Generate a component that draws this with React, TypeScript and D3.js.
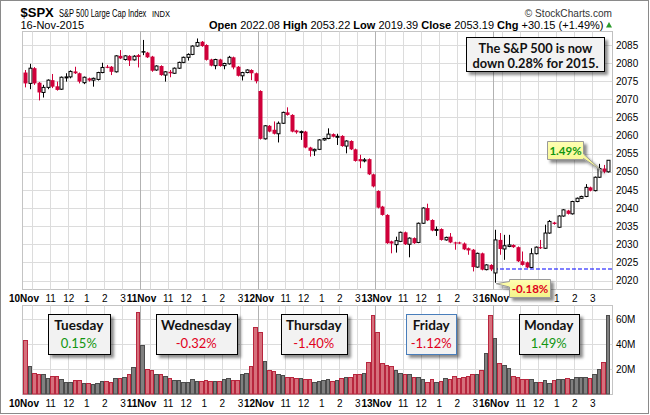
import React from 'react';
import * as d3 from 'd3';

// ---------- DATA ----------
const dayLabels = ['10Nov', '11Nov', '12Nov', '13Nov', '16Nov'];
const hourLabels = ['11', '12', '1', '2', '3'];
const priceTicks = [2020, 2025, 2030, 2035, 2040, 2045, 2050, 2055, 2060, 2065, 2070, 2075, 2080, 2085];
const volTicks = [20, 40, 60];
const volTickLabels = ['20M', '40M', '60M'];
const prevSessionClose = 2078.58;
const fridayClose = 2023.04;

// 15-minute bars, 26 per session
const opens = [
  2077.4, 2074.4, 2078.6, 2074.6, 2071.9, 2073.3, 2075.3, 2073.6, 2072.8, 2076.1, 2076.2, 2077.7, 2077.2, 2074.6, 2075.8, 2075.3, 2075.5, 2077.4, 2079.0, 2079.0, 2077.6, 2082.0, 2081.0, 2082.0, 2080.9, 2082.2,
  2083.3, 2082.9, 2081.8, 2078.1, 2079.2, 2076.7, 2077.6, 2077.2, 2078.6, 2080.2, 2081.6, 2082.4, 2084.7, 2085.9, 2085.0, 2081.0, 2079.3, 2081.0, 2079.3, 2079.8, 2081.6, 2079.0, 2076.5, 2077.4, 2078.1, 2077.2,
  2072.3, 2059.1, 2062.7, 2061.6, 2060.5, 2063.4, 2066.4, 2065.7, 2061.4, 2060.9, 2061.1, 2056.7, 2055.8, 2056.2, 2058.8, 2059.2, 2060.4, 2059.7, 2059.9, 2057.1, 2058.5, 2056.2, 2053.5, 2053.0, 2053.5, 2049.3,
  2044.7, 2040.4, 2038.1, 2030.8, 2029.9, 2030.8, 2033.3, 2030.0, 2031.7, 2030.5, 2035.8, 2040.0, 2036.7, 2034.0, 2034.2, 2031.2, 2032.1, 2030.5, 2030.5, 2030.2, 2028.9, 2028.5, 2023.7, 2027.5, 2023.0, 2024.3,
  2022.08, 2031.2, 2028.7, 2029.4, 2029.8, 2029.2, 2025.3, 2025.0, 2023.6, 2027.4, 2029.2, 2028.9, 2033.1, 2036.0, 2034.7, 2037.8, 2039.3, 2038.4, 2041.8, 2042.7, 2043.2, 2045.7, 2044.8, 2048.5, 2050.9, 2050.0,
];
const highs = [
  2078.1, 2079.8, 2078.9, 2074.8, 2074.0, 2075.5, 2077.0, 2074.9, 2076.3, 2077.2, 2078.0, 2079.0, 2077.4, 2076.3, 2076.0, 2076.0, 2077.6, 2080.1, 2079.5, 2079.2, 2082.2, 2083.6, 2082.2, 2082.2, 2082.2, 2082.5,
  2086.4, 2083.1, 2082.0, 2079.4, 2079.4, 2077.8, 2078.1, 2078.8, 2080.4, 2081.8, 2082.7, 2084.9, 2086.8, 2086.1, 2085.2, 2081.2, 2081.2, 2081.2, 2080.1, 2082.0, 2081.8, 2079.2, 2077.6, 2078.3, 2078.3, 2077.4,
  2072.5, 2062.9, 2062.9, 2063.9, 2063.9, 2066.6, 2067.8, 2065.9, 2061.6, 2061.4, 2061.3, 2056.9, 2056.4, 2059.0, 2059.4, 2062.0, 2060.6, 2060.5, 2060.1, 2058.7, 2058.7, 2056.4, 2054.7, 2053.8, 2053.7, 2049.5,
  2044.9, 2040.6, 2038.3, 2031.0, 2032.1, 2033.5, 2033.5, 2031.9, 2031.9, 2036.0, 2040.2, 2041.2, 2036.9, 2034.9, 2034.4, 2032.1, 2033.1, 2030.7, 2030.7, 2030.5, 2029.1, 2028.7, 2027.7, 2027.7, 2024.5, 2024.5,
  2034.0, 2033.1, 2032.6, 2032.6, 2030.0, 2029.4, 2028.0, 2025.2, 2028.9, 2029.4, 2031.2, 2035.4, 2036.7, 2036.2, 2038.0, 2039.7, 2039.5, 2042.0, 2042.9, 2043.4, 2046.6, 2045.9, 2048.7, 2052.2, 2051.9, 2053.22,
];
const lows = [
  2073.3, 2072.8, 2074.0, 2069.7, 2070.5, 2072.8, 2073.1, 2072.4, 2072.6, 2074.9, 2075.8, 2077.0, 2074.4, 2074.2, 2074.9, 2073.5, 2075.2, 2077.2, 2078.6, 2076.7, 2077.4, 2081.1, 2080.7, 2079.2, 2080.7, 2078.8,
  2082.2, 2081.4, 2077.6, 2077.9, 2076.5, 2074.9, 2076.1, 2077.0, 2078.4, 2080.0, 2080.7, 2082.2, 2084.5, 2084.5, 2080.7, 2079.1, 2078.3, 2079.0, 2078.3, 2079.6, 2078.3, 2076.3, 2075.2, 2077.2, 2075.3, 2074.4,
  2058.9, 2058.9, 2060.9, 2060.3, 2058.1, 2063.2, 2065.5, 2060.9, 2060.5, 2058.8, 2056.5, 2054.2, 2054.4, 2056.0, 2058.6, 2059.0, 2059.5, 2057.4, 2056.9, 2055.1, 2056.0, 2052.8, 2051.0, 2052.6, 2049.1, 2045.7,
  2039.9, 2037.9, 2030.1, 2027.5, 2027.7, 2030.6, 2029.8, 2026.4, 2030.1, 2030.3, 2035.6, 2036.4, 2033.6, 2032.3, 2031.0, 2031.0, 2030.3, 2028.5, 2030.1, 2028.4, 2027.1, 2022.5, 2023.5, 2022.8, 2022.8, 2022.6,
  2019.39, 2027.1, 2025.7, 2029.2, 2029.0, 2025.1, 2024.1, 2023.4, 2023.4, 2027.2, 2028.7, 2028.7, 2032.9, 2035.4, 2034.5, 2037.6, 2038.2, 2038.2, 2041.6, 2042.5, 2043.0, 2044.6, 2044.6, 2048.3, 2049.6, 2049.8,
];
const closes = [
  2074.4, 2078.6, 2074.4, 2071.9, 2073.3, 2075.3, 2073.5, 2072.6, 2076.1, 2076.2, 2077.7, 2077.2, 2074.9, 2076.1, 2075.2, 2075.8, 2077.4, 2078.8, 2078.7, 2077.6, 2082.0, 2081.3, 2082.0, 2080.7, 2081.9, 2081.7,
  2082.9, 2081.6, 2077.9, 2079.2, 2076.7, 2077.6, 2077.2, 2078.6, 2080.2, 2081.6, 2082.4, 2084.7, 2085.7, 2084.7, 2080.9, 2079.3, 2081.0, 2079.2, 2079.9, 2081.6, 2078.8, 2076.5, 2077.4, 2078.1, 2077.2, 2075.0,
  2059.1, 2062.7, 2061.1, 2060.5, 2063.4, 2066.4, 2065.7, 2061.1, 2060.9, 2061.1, 2056.7, 2055.8, 2056.2, 2058.8, 2059.2, 2060.4, 2059.7, 2059.8, 2057.1, 2058.5, 2056.2, 2053.0, 2052.9, 2053.3, 2049.3, 2045.97,
  2040.1, 2038.1, 2030.3, 2030.2, 2031.0, 2033.3, 2030.0, 2031.7, 2030.3, 2035.8, 2040.0, 2036.6, 2033.8, 2034.1, 2031.2, 2031.9, 2030.5, 2030.3, 2030.2, 2028.6, 2028.3, 2023.7, 2027.5, 2023.0, 2024.3, 2023.04,
  2031.2, 2028.7, 2029.6, 2029.8, 2029.2, 2025.3, 2024.3, 2023.6, 2027.4, 2029.2, 2028.9, 2033.1, 2036.3, 2035.6, 2037.8, 2039.5, 2038.4, 2041.8, 2042.7, 2043.2, 2045.7, 2044.8, 2048.5, 2050.9, 2050.0, 2053.19,
];
// volume in millions
const volumes = [
  43.2, 22.4, 16.5, 15.7, 15.7, 12.5, 14.4, 14.4, 11.7, 9.9, 9.9, 11.2, 11.2, 8.5, 8.5, 7.7, 8.5, 10.4, 10.4, 9.9, 12.5, 12.5, 13.3, 16.0, 21.3, 65.3,
  39.2, 19.7, 19.2, 16.0, 16.0, 14.4, 12.5, 11.2, 11.2, 9.9, 9.9, 11.7, 10.4, 10.4, 11.2, 10.7, 10.4, 10.4, 11.7, 12.5, 11.2, 11.2, 16.0, 16.8, 22.4, 53.3,
  49.9, 26.4, 19.2, 18.7, 16.0, 15.2, 13.3, 13.3, 12.5, 12.5, 11.7, 11.7, 9.9, 10.7, 11.2, 11.7, 10.4, 11.2, 12.5, 13.3, 13.3, 16.0, 16.0, 16.8, 25.6, 63.2,
  49.3, 24.5, 23.2, 22.4, 19.2, 16.8, 16.0, 16.0, 13.3, 13.3, 11.7, 9.9, 11.7, 9.9, 10.4, 12.5, 11.7, 14.4, 12.5, 13.3, 14.4, 16.0, 16.0, 19.2, 32.8, 63.2,
  44.5, 24.5, 23.2, 20.5, 14.4, 13.3, 11.7, 11.7, 11.7, 9.9, 9.9, 11.2, 8.5, 11.2, 11.7, 11.7, 12.5, 11.7, 13.3, 13.3, 13.9, 12.5, 16.0, 19.7, 25.6, 63.2,
];
const weekdayNames = ['Tuesday', 'Wednesday', 'Thursday', 'Friday', 'Monday'];
const weekdayChanges = [0.15, -0.32, -1.40, -1.12, 1.49];
const headerValues = { open: '2022.08', high: '2053.22', low: '2019.39', close: '2053.19', chg: '+30.15', pct: '(+1.49%)' };
const lowCallout = '-0.18%';
const lastCallout = '1.49%';
const noteLines = ['The S&P 500 is now', 'down 0.28% for 2015.'];

// ---------- LAYOUT ----------
const BARS_PER_DAY = 26;
const PLOT_L = 23;
const PLOT_R = 612.5;
const MAIN_T = 31.5;
const MAIN_B = 289.5;
const VOL_T = 305.5;
const VOL_B = 394.5;
const boxWidths = [62, 81, 66, 50, 60];
const LOW_BOX = { x0: 509.5, x1: 550.5, y0: 279.5, y1: 297.5 };

const RED = '#d0003a';
const GREEN = '#119611';
const PCT_RED = '#e0001b';
const LABEL_FONT = "'Liberation Sans', Arial, sans-serif";
const BOX_FONT = "Lato, 'Open Sans', sans-serif";

const snap = (v: number) => Math.round(v) + 0.5;

export default function App() {
  const n = closes.length;
  const x = d3.scaleLinear().domain([0, n]).range([PLOT_L, PLOT_L + n * 4.519]);
  const y = d3.scaleLinear().domain([2020, 2085]).range([280.5, 45]);
  const yv = d3.scaleLinear().domain([0, 60]).range([394, 319]);

  const bars = d3.range(n).map((i) => {
    const prev = i === 0 ? prevSessionClose : closes[i - 1];
    const up = closes[i] >= prev;
    const filled = closes[i] < opens[i];
    return { i, o: opens[i], h: highs[i], l: lows[i], c: closes[i], v: volumes[i], up, filled };
  });

  const days = d3.range(dayLabels.length);
  const dayBoundaries = d3.range(1, dayLabels.length).map((d) => snap(x(d * BARS_PER_DAY)));
  const hourOffsets = [2, 6, 10, 14, 18, 22];
  const hourGrid: number[] = [];
  days.forEach((d) => hourOffsets.forEach((o) => hourGrid.push(snap(x(d * BARS_PER_DAY + o)))));

  const renderGrid = (top: number, bottom: number) => (
    <g>
      {hourGrid.map((gx, k) => (
        <line key={'h' + k} x1={gx} x2={gx} y1={top} y2={bottom} stroke="#dcdcdc" strokeWidth={1} />
      ))}
      {dayBoundaries.map((gx, k) => (
        <line key={'d' + k} x1={gx} x2={gx} y1={top} y2={bottom} stroke="#b2b2b2" strokeWidth={1} />
      ))}
    </g>
  );

  // labels hidden by the low callout are not drawn (they sit behind it in the reference)
  const renderXLabels = (baseline: number, hideUnderCallout: boolean) => (
    <g fontFamily={LABEL_FONT} fontSize={10} fill="#000">
      {days.map((d) => (
        <g key={d}>
          <text x={x(d * BARS_PER_DAY) + 1} y={baseline} textAnchor="middle" fontWeight="bold">
            {dayLabels[d]}
          </text>
          {hourLabels.map((hl, k) => {
            const lx = x(d * BARS_PER_DAY + 6 + 4 * k) + 0.5;
            if (hideUnderCallout && lx > LOW_BOX.x0 - 4 && lx < LOW_BOX.x1 + 4) return null;
            return (
              <text key={k} x={lx} y={baseline} textAnchor="middle">
                {hl}
              </text>
            );
          })}
        </g>
      ))}
    </g>
  );

  const fmtPct = (v: number) => `${v.toFixed(2)}%`;

  const lastBar = bars[n - 1];
  const lowIndex = d3.minIndex(lows);
  const lowX = x(lowIndex + 0.5);
  const lowY = y(lows[lowIndex]);
  const lastX = x(n - 0.5);
  const lastY = y(lastBar.h);

  return (
    <svg
      width={650}
      height={415}
      style={{ position: 'absolute', left: 0, top: 0, background: '#fff' }}
      fontFamily={LABEL_FONT}
    >
      <defs>
        <filter id="shadow" x="-20%" y="-20%" width="150%" height="170%">
          <feDropShadow dx="3" dy="3" stdDeviation="1.4" floodColor="#000" floodOpacity="0.45" />
        </filter>
        <linearGradient id="callout" x1="0" y1="0" x2="0" y2="1">
          <stop offset="0" stopColor="#ffffb0" />
          <stop offset="1" stopColor="#f3f38a" />
        </linearGradient>
      </defs>
      <rect x={0} y={0} width={650} height={415} fill="#fff" />
      <rect x={0.5} y={0.5} width={648} height={413} fill="none" stroke="#8a8a8a" />

      {/* Header */}
      <text x={20.5} y={16.5} fontSize={13} fontWeight="bold">$SPX</text>
      <text transform="translate(59,16.5) scale(0.655,1)" fontSize={11.5}>S&amp;P 500 Large Cap Index</text>
      <text transform="translate(152,16.5) scale(0.8,1)" fontSize={9.5}>INDX</text>
      <text transform="translate(612,16.5) scale(0.92,1)" fontSize={11} textAnchor="end" fill="#333">© StockCharts.com</text>
      <text x={20.5} y={29} fontSize={11}>16-Nov-2015</text>
      <text x={603.5} y={29} fontSize={11} textAnchor="end">
        <tspan fontWeight="bold">Open</tspan> {headerValues.open} <tspan fontWeight="bold">High</tspan> {headerValues.high}{' '}
        <tspan fontWeight="bold">Low</tspan> {headerValues.low} <tspan fontWeight="bold">Close</tspan> {headerValues.close}{' '}
        <tspan fontWeight="bold">Chg</tspan> {headerValues.chg} {headerValues.pct}
      </text>
      <path d="M606,27.5 L612,27.5 L609,22 Z" fill="#2a9a2a" />

      {/* Main price panel */}
      <rect x={snap(PLOT_L) - 1} y={MAIN_T} width={PLOT_R - snap(PLOT_L) + 1} height={MAIN_B - MAIN_T} fill="#fff" stroke="#c4c4c4" />
      {priceTicks.map((t) => (
        <line key={t} x1={PLOT_L} x2={PLOT_R} y1={snap(y(t))} y2={snap(y(t))} stroke="#dcdcdc" />
      ))}
      {renderGrid(MAIN_T, MAIN_B)}
      <line x1={PLOT_R} x2={PLOT_R} y1={MAIN_T} y2={MAIN_B} stroke="#bdbdbd" strokeDasharray="1,1" />
      {priceTicks.map((t) => (
        <text key={t} x={616} y={y(t) + 3.6} fontSize={10}>{t}</text>
      ))}

      {/* Friday close reference line */}
      <line
        x1={x(4 * BARS_PER_DAY) + 1}
        x2={PLOT_R}
        y1={Math.round(y(fridayClose))}
        y2={Math.round(y(fridayClose))}
        stroke="#0000ff"
        strokeWidth={1.2}
        strokeDasharray="4,2"
      />

      {/* Candles */}
      {bars.map((b) => {
        const cx = snap(x(b.i + 0.5)) - 0.5;
        const col = b.up ? '#000' : RED;
        const top = y(Math.max(b.o, b.c));
        const bot = y(Math.min(b.o, b.c));
        const hgt = Math.max(bot - top, 1);
        return (
          <g key={b.i}>
            <line x1={cx + 0.5} x2={cx + 0.5} y1={y(b.h)} y2={y(b.l)} stroke={col} strokeWidth={1} />
            {b.filled ? (
              <rect x={cx - 1.5} y={top} width={4} height={hgt} fill={col} />
            ) : (
              <rect x={cx - 1} y={top} width={3} height={hgt} fill="#fff" stroke={col} strokeWidth={1} />
            )}
          </g>
        );
      })}

      {/* Note box */}
      <g filter="url(#shadow)">
        <rect x={466.5} y={37.5} width={138} height={34} fill="#f2f2f2" stroke="#000" strokeWidth={1} />
      </g>
      {noteLines.map((ln, k) => (
        <text key={k} x={535.5} y={52.5 + k * 15} textAnchor="middle" fontFamily={BOX_FONT} fontWeight="bold" fontSize={12.8} fill="#111">
          {ln}
        </text>
      ))}

      {/* Last-bar callout */}
      <g filter="url(#shadow)">
        <path
          d={`M547.5,141.5 H583.5 V154 L${lastX - 6},${lastY + 11} L583.5,158.5 V159.5 H547.5 Z`}
          fill="url(#callout)"
          stroke="#9a9a9a"
        />
      </g>
      <text x={565.5} y={155} textAnchor="middle" fontFamily={BOX_FONT} fontWeight="bold" fontSize={11.5} fill={GREEN}>
        {lastCallout}
      </text>

      {/* X labels main */}
      {renderXLabels(302, true)}

      {/* Low callout */}
      <g filter="url(#shadow)">
        <path
          d={`M${LOW_BOX.x0},${LOW_BOX.y0} H${LOW_BOX.x1} V${LOW_BOX.y1} H${LOW_BOX.x0} V287 L${lowX + 1},${lowY + 1} L${LOW_BOX.x0},281.5 Z`}
          fill="url(#callout)"
          stroke="#9a9a9a"
        />
      </g>
      <text x={530} y={293} textAnchor="middle" fontFamily={BOX_FONT} fontWeight="bold" fontSize={11.5} fill={PCT_RED}>
        {lowCallout}
      </text>

      {/* Volume panel */}
      <rect x={snap(PLOT_L) - 1} y={VOL_T} width={PLOT_R - snap(PLOT_L) + 1} height={VOL_B - VOL_T} fill="#fff" stroke="#c4c4c4" />
      {volTicks.map((t) => (
        <line key={t} x1={PLOT_L} x2={PLOT_R} y1={snap(yv(t))} y2={snap(yv(t))} stroke="#dcdcdc" />
      ))}
      {renderGrid(VOL_T, VOL_B)}
      {volTicks.map((t, k) => (
        <text key={t} x={616} y={yv(t) + 3.6} fontSize={10}>{volTickLabels[k]}</text>
      ))}
      {bars.map((b) => {
        const l = Math.round(x(b.i));
        const r = Math.round(x(b.i + 1));
        const top = yv(b.v);
        return (
          <rect
            key={b.i}
            x={l + 0.5}
            y={Math.round(top) + 0.5}
            width={Math.max(r - l - 1, 1)}
            height={Math.max(VOL_B - 0.5 - (Math.round(top) + 0.5), 0)}
            fill={b.up ? '#808080' : '#d6707c'}
            stroke={b.up ? '#4c4c4c' : '#b8263e'}
            strokeWidth={1}
          />
        );
      })}

      {/* Weekday boxes */}
      {days.map((d) => {
        const cx = x(d * BARS_PER_DAY + BARS_PER_DAY / 2) - 3;
        const w = boxWidths[d];
        const chg = weekdayChanges[d];
        return (
          <g key={d}>
            <g filter="url(#shadow)">
              <rect
                x={Math.round(cx - w / 2) + 0.5}
                y={314.5}
                width={w}
                height={40}
                fill="#f2f2f2"
                stroke={d === 3 ? '#4a7ebb' : '#000'}
                strokeWidth={1}
              />
            </g>
            <text x={cx} y={330} textAnchor="middle" fontFamily={BOX_FONT} fontWeight="bold" fontSize={13.5} fill="#111">
              {weekdayNames[d]}
            </text>
            <text x={cx} y={348} textAnchor="middle" fontFamily={BOX_FONT} fontSize={13} fill={chg >= 0 ? GREEN : PCT_RED}>
              {fmtPct(chg)}
            </text>
          </g>
        );
      })}

      {/* X labels bottom */}
      {renderXLabels(407, false)}
    </svg>
  );
}
